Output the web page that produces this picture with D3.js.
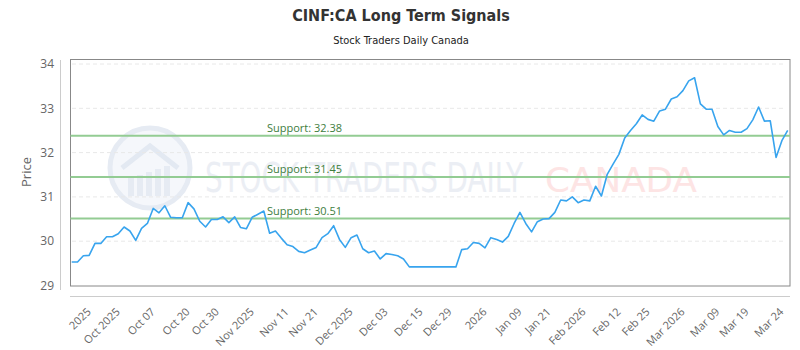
<!DOCTYPE html>
<html>
<head>
<meta charset="utf-8">
<script src="https://cdn.jsdelivr.net/npm/d3@7"></script>
<style>
  body { margin: 0; background: #fff; }
  svg { display: block; }
</style>
</head>
<body>
<div id="chart"></div>
<script>
// closing prices, one per trading day
const prices = [
  29.53, 29.53, 29.67, 29.68, 29.95, 29.95, 30.10, 30.10, 30.17, 30.32,
  30.23, 30.02, 30.29, 30.40, 30.74, 30.64, 30.80, 30.54, 30.53, 30.53,
  30.87, 30.73, 30.45, 30.32, 30.49, 30.49, 30.55, 30.42, 30.55, 30.31,
  30.28, 30.54, 30.61, 30.68, 30.18, 30.23, 30.07, 29.92, 29.88, 29.77,
  29.74, 29.80, 29.86, 30.08, 30.17, 30.35, 30.04, 29.86, 30.08, 30.14,
  29.83, 29.74, 29.78, 29.60, 29.72, 29.70, 29.67, 29.60, 29.42, 29.42,
  29.42, 29.42, 29.42, 29.42, 29.42, 29.42, 29.42, 29.81, 29.83, 29.97,
  29.95, 29.85, 30.08, 30.04, 29.98, 30.11, 30.40, 30.65, 30.40, 30.21,
  30.44, 30.50, 30.51, 30.65, 30.93, 30.91, 31.00, 30.87, 30.93, 30.91,
  31.24, 31.02, 31.51, 31.74, 31.96, 32.33, 32.50, 32.65, 32.85, 32.75,
  32.71, 32.94, 32.98, 33.21, 33.26, 33.40, 33.62, 33.69, 33.10, 32.98,
  32.98, 32.59, 32.40, 32.50, 32.46, 32.46, 32.54, 32.74, 33.03, 32.71,
  32.72, 31.89, 32.27, 32.50
];

// x axis labels and the trading-day index they sit on
const tickLabels = [
  "2025", "Oct 2025", "Oct 07", "Oct 20", "Oct 30", "Nov 2025", "Nov 11",
  "Nov 21", "Dec 2025", "Dec 03", "Dec 15", "Dec 29", "2026", "Jan 09",
  "Jan 21", "Feb 2026", "Feb 12", "Feb 25", "Mar 2026", "Mar 09", "Mar 19", "Mar 24"
];
const tickIndex = [3, 8, 14, 20, 25, 31, 37, 42, 48, 54, 60, 65, 71, 77, 82, 88, 94, 99, 105, 111, 116, 122];

const yTicks = [29, 30, 31, 32, 33, 34];

const supportLevels = [32.38, 31.45, 30.51];

const W = 800, H = 350;
const PLOT = { left: 70.5, right: 790, top: 59.5, bottom: 286 };

const svg = d3.select("#chart").append("svg")
  .attr("width", W)
  .attr("height", H);

const x = d3.scaleLinear()
  .domain([0, prices.length - 1])
  .range([71.7, 787.7]);

const y = d3.scaleLinear()
  .domain([29, 34])
  .range([285.5, 64]);

// title + subtitle
svg.append("text")
  .attr("x", 401).attr("y", 21)
  .attr("text-anchor", "middle")
  .style("font-family", "'DejaVu Sans Condensed', 'DejaVu Sans'")
  .style("font-stretch", "condensed")
  .style("font-weight", "bold")
  .style("font-size", "16px")
  .style("fill", "#333")
  .text("CINF:CA Long Term Signals");

svg.append("text")
  .attr("x", 401).attr("y", 44)
  .attr("text-anchor", "middle")
  .style("font-family", "'DejaVu Sans Condensed', 'DejaVu Sans'")
  .style("font-stretch", "condensed")
  .style("font-size", "11px")
  .style("fill", "#222")
  .text("Stock Traders Daily Canada");

// watermark (logo + name), very faint
const wm = svg.append("g");
wm.append("circle")
  .attr("cx", 150).attr("cy", 168).attr("r", 40)
  .attr("fill", "#f5f7fb")
  .attr("stroke", "#e6ebf3").attr("stroke-width", 5);
wm.append("path")
  .attr("d", "M122,168 L150,146 L178,168")
  .attr("fill", "none")
  .attr("stroke", "#e3e9f2").attr("stroke-width", 5);
wm.selectAll("rect.bar")
  .data([0, 1, 2, 3, 4])
  .join("rect")
  .attr("class", "bar")
  .attr("x", d => 128 + d * 9)
  .attr("y", d => 178 - d * 3)
  .attr("width", 6)
  .attr("height", d => 18 + d * 3)
  .attr("fill", "#e6ebf3");
wm.append("text")
  .attr("x", 205).attr("y", 192)
  .attr("textLength", 318)
  .attr("lengthAdjust", "spacingAndGlyphs")
  .style("font-family", "'DejaVu Sans Condensed', 'DejaVu Sans'")
  .style("font-size", "40px")
  .style("fill", "#ebeef4")
  .text("STOCK TRADERS DAILY");
wm.append("text")
  .attr("x", 545).attr("y", 192)
  .attr("textLength", 152)
  .attr("lengthAdjust", "spacingAndGlyphs")
  .style("font-family", "'DejaVu Sans', sans-serif")
  .style("font-size", "33px")
  .style("fill", "#fde4e4")
  .text("CANADA");

// gridlines
svg.append("g")
  .selectAll("line")
  .data(yTicks.slice(1))
  .join("line")
  .attr("x1", 72).attr("x2", 786)
  .attr("y1", d => y(d)).attr("y2", d => y(d))
  .attr("stroke", "#e8e8e8")
  .attr("stroke-dasharray", "4,3");

// plot frame
svg.append("rect")
  .attr("x", PLOT.left).attr("y", PLOT.top)
  .attr("width", PLOT.right - PLOT.left)
  .attr("height", PLOT.bottom - PLOT.top)
  .attr("fill", "none")
  .attr("stroke", "#888")
  .attr("stroke-width", 1);

// y axis
svg.append("line")
  .attr("x1", 60.5).attr("x2", 60.5)
  .attr("y1", 60).attr("y2", 290)
  .attr("stroke", "#ccc");

svg.append("g")
  .selectAll("text")
  .data(yTicks)
  .join("text")
  .attr("x", 54)
  .attr("y", d => y(d))
  .attr("dy", "0.35em")
  .attr("text-anchor", "end")
  .style("font-family", "'Open Sans'")
  .style("font-size", "12px")
  .style("fill", "#666")
  .text(d => d);

svg.append("text")
  .attr("transform", "translate(31,172) rotate(-90)")
  .attr("text-anchor", "middle")
  .style("font-family", "'Open Sans'")
  .style("font-size", "13px")
  .style("fill", "#666")
  .text("Price");

// x axis
svg.append("line")
  .attr("x1", 70).attr("x2", 790)
  .attr("y1", 296.5).attr("y2", 296.5)
  .attr("stroke", "#ccc");

svg.append("g")
  .selectAll("text")
  .data(tickIndex)
  .join("text")
  .attr("transform", d => `translate(${x(d) - 3},307) rotate(-45)`)
  .attr("text-anchor", "end")
  .attr("dy", "0.7em")
  .style("font-family", "'Open Sans'")
  .style("font-size", "11px")
  .style("fill", "#666")
  .text((d, i) => tickLabels[i]);

// support levels
const sup = svg.append("g");
sup.selectAll("line")
  .data(supportLevels)
  .join("line")
  .attr("x1", PLOT.left).attr("x2", PLOT.right)
  .attr("y1", d => y(d)).attr("y2", d => y(d))
  .attr("stroke", "#93cc93")
  .attr("stroke-width", 2);
sup.selectAll("text")
  .data(supportLevels)
  .join("text")
  .attr("x", 267)
  .attr("y", d => y(d) - 4)
  .style("font-family", "'Open Sans'")
  .style("font-size", "11px")
  .style("fill", "#3d7d3d")
  .text(d => "Support: " + d.toFixed(2));

// price line
svg.append("path")
  .datum(prices)
  .attr("fill", "none")
  .attr("stroke", "#38a4ee")
  .attr("stroke-width", 1.6)
  .attr("stroke-linejoin", "round")
  .attr("d", d3.line().x((d, i) => x(i)).y(d => y(d)));
</script>
</body>
</html>
